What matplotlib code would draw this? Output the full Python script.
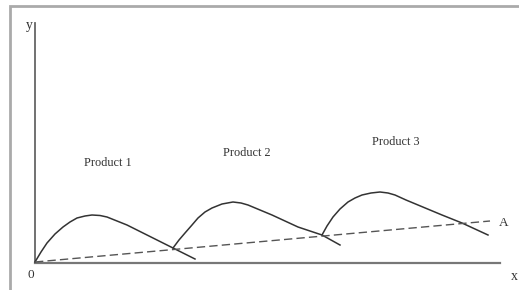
import matplotlib.pyplot as plt
from matplotlib.patches import Rectangle

plt.rcParams['font.family'] = ['Liberation Serif', 'DejaVu Serif']

# product life cycles (time, sales)
p1_t = [0, 6, 12, 20, 28, 35, 42, 50, 57, 65, 72, 82, 92, 112, 138, 160]
p1_s = [1, 11, 20, 29, 36, 41, 45, 47, 48, 47.5, 46, 42, 38, 28, 15, 4]
p2_t = [138, 144, 150, 157, 163, 170, 177, 187, 198, 206, 213, 225, 237, 263, 287, 305]
p2_s = [15, 23, 30, 38, 45, 51, 55, 59, 61, 60, 58, 53, 48, 36, 28, 18]
p3_t = [287, 292, 298, 305, 313, 320, 327, 336, 345, 353, 360, 371, 383, 407, 427, 453]
p3_s = [28, 37, 46, 54, 61, 65, 68, 70, 71, 70, 68, 63, 58, 48, 40, 28]
trend_t = [0, 455]
trend_s = [1, 42]

labels = ['Product 1', 'Product 2', 'Product 3']
label_pos = [(73, 100), (212, 110), (361, 121)]

fig = plt.figure(figsize=(5.19, 2.90), dpi=100)
ax = fig.add_axes([0, 0, 1, 1])
ax.set_xlim(-35, 484)
ax.set_ylim(-27, 263)
ax.axis('off')

# axes
ax.plot([0, 0], [0, 240], color='#666666', lw=1.3)
ax.plot([0, 465], [0, 0], color='#777777', lw=1.6)

curve_kw = dict(color='#333333', lw=1.1, solid_joinstyle='round')
ax.plot(p1_t, p1_s, **curve_kw)
ax.plot(p2_t, p2_s, **curve_kw)
ax.plot(p3_t, p3_s, **curve_kw)
ax.plot(trend_t, trend_s, color='#555555', lw=1.0, dashes=(6, 3))

for lab, (x, y) in zip(labels, label_pos):
    ax.text(x, y, lab, ha='center', va='center', fontsize=8.8, color='#333333')

ax.text(-6, 238, 'y', ha='center', va='center', fontsize=10, color='#333333')
ax.text(-4, -12, '0', ha='center', va='center', fontsize=9.5, color='#333333')
ax.text(479, -13, 'x', ha='center', va='center', fontsize=10, color='#333333')
ax.text(469, 40, 'A', ha='center', va='center', fontsize=9.5, color='#333333')

# grey frame round the picture
fig.patches.append(Rectangle((10 / 519, -0.1), 2, 1.1 - 6 / 290, transform=fig.transFigure,
                             fill=False, edgecolor='#aaaaaa', lw=2))

plt.savefig('out.png', dpi=100)
plt.close()
